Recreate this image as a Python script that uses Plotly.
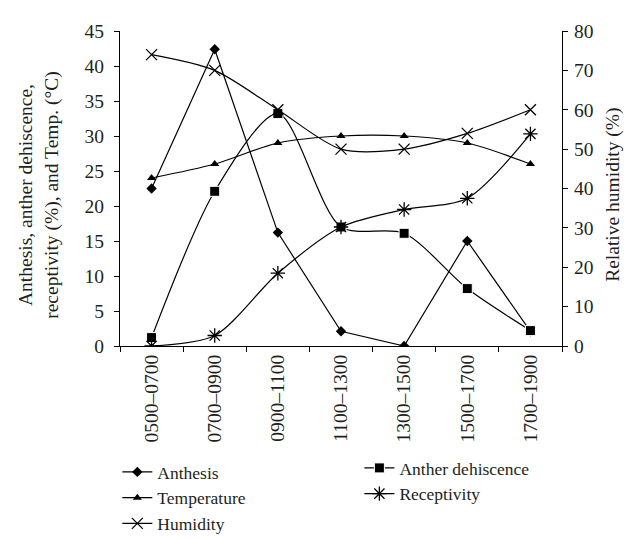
import plotly.graph_objects as go

categories = ["0500–0700", "0700–0900", "0900–1100", "1100–1300", "1300–1500", "1500–1700", "1700–1900"]
anthesis = [22.5, 42.4, 16.2, 2.1, 0.0, 15.0, 2.1]
anther_dehiscence = [1.2, 22.1, 33.2, 17.0, 16.1, 8.2, 2.2]
temperature = [24.0, 26.0, 29.0, 30.0, 30.0, 29.0, 26.0]
receptivity = [0.0, 1.5, 10.4, 17.0, 19.5, 21.1, 30.3]
humidity = [74.0, 70.0, 60.0, 50.0, 50.0, 54.0, 60.0]

left_title = "Anthesis, anther dehiscence,<br>receptivity (%), and Temp. (°C)"
right_title = "Relative humidity (%)"

FONT = "Liberation Serif"
FS = 19.5
LFS = 17.5
LW = 1.2
fig = go.Figure()

fig.add_trace(go.Scatter(x=categories, y=anthesis, name="Anthesis", mode="lines+markers",
                         line=dict(color="black", width=LW),
                         marker=dict(symbol="diamond", size=8, color="black"), legend="legend"))
fig.add_trace(go.Scatter(x=categories, y=temperature, name="Temperature", mode="lines+markers",
                         line=dict(color="black", width=LW, shape="spline", smoothing=0.8),
                         marker=dict(symbol="triangle-up", size=8, color="black"), legend="legend"))
fig.add_trace(go.Scatter(x=categories, y=humidity, name="Humidity", mode="lines+markers", yaxis="y2",
                         line=dict(color="black", width=LW, shape="spline", smoothing=0.8),
                         marker=dict(symbol="x-thin-open", size=11, color="black", line=dict(width=1.3, color="black")),
                         legend="legend"))
fig.add_trace(go.Scatter(x=categories, y=anther_dehiscence, name="Anther dehiscence", mode="lines+markers",
                         line=dict(color="black", width=LW, shape="spline", smoothing=0.8),
                         marker=dict(symbol="square", size=10, color="black", line=dict(width=1, color="white")),
                         legend="legend2"))
fig.add_trace(go.Scatter(x=categories, y=receptivity, name="Receptivity", mode="lines+markers",
                         line=dict(color="black", width=LW, shape="spline", smoothing=0.8),
                         marker=dict(symbol="asterisk-open", size=12, color="black", line=dict(width=1.3, color="black")),
                         legend="legend2"))

fig.update_layout(
    width=632, height=539,
    margin=dict(l=112, r=78, t=23, b=201, autoexpand=False),
    paper_bgcolor="white", plot_bgcolor="white",
    font=dict(family=FONT, size=FS, color="#231f20"),
    xaxis=dict(type="category", tickson="boundaries", ticks="outside", ticklen=5, tickcolor="black",
               showline=True, linecolor="black", linewidth=1, showgrid=False, tickangle=-90,
               tickfont=dict(size=FS), range=[-0.5, 6.5]),
    yaxis=dict(range=[0, 45], dtick=5, ticks="outside", ticklen=5, tickcolor="black",
               showline=True, linecolor="black", linewidth=1, showgrid=False, zeroline=False,
               tickfont=dict(size=FS), ticklabelstandoff=6),
    yaxis2=dict(range=[0, 80], dtick=10, overlaying="y", side="right", ticks="outside", ticklen=5,
                tickcolor="black", showline=True, linecolor="black", linewidth=1, showgrid=False,
                zeroline=False, tickfont=dict(size=FS), ticklabelstandoff=2),
    legend=dict(xref="container", yref="container", x=0.173, y=1 - 446 / 539, xanchor="left", yanchor="top",
                orientation="v", font=dict(size=LFS), bgcolor="rgba(0,0,0,0)", tracegroupgap=0, itemwidth=30),
    legend2=dict(xref="container", yref="container", x=0.556, y=1 - 442 / 539, xanchor="left", yanchor="top",
                 orientation="v", font=dict(size=LFS), bgcolor="rgba(0,0,0,0)", tracegroupgap=0, itemwidth=30),
    annotations=[
        dict(text=left_title, xref="paper", yref="paper", x=(31 - 112) / 442, y=0.48, textangle=-90,
             xanchor="center", yanchor="middle", showarrow=False, font=dict(size=FS)),
        dict(text=right_title, xref="paper", yref="paper", x=(605 - 112) / 442, y=0.48, textangle=-90,
             xanchor="center", yanchor="middle", showarrow=False, font=dict(size=FS)),
    ],
)

fig.write_html("out.html")
